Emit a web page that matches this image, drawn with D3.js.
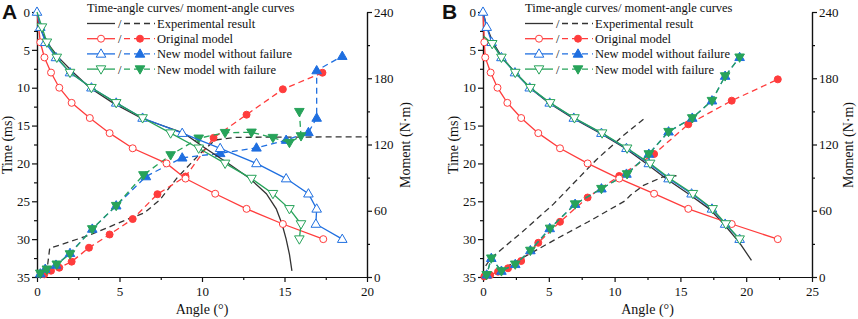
<!DOCTYPE html>
<html>
<head>
<meta charset="utf-8">
<script src="https://cdn.jsdelivr.net/npm/d3@7"></script>
<style>
body { margin: 0; background: #fff; }
text { font-family: "Liberation Serif", "Times New Roman", serif; fill: #111; }
</style>
</head>
<body>
<div id="chart"></div>
<script>
// ---- tick labels ----
const timeTicks = [0, 5, 10, 15, 20, 25, 30, 35];
const timeMinor = [2.5, 7.5, 12.5, 17.5, 22.5, 27.5, 32.5];
const momentTicks = [0, 60, 120, 180, 240];
const momentMinor = [30, 90, 150, 210];
const angleTicksA = [0, 5, 10, 15, 20];
const angleMinorA = [2.5, 7.5, 12.5, 17.5];
const angleTicksB = [0, 5, 10, 15, 20, 25];
const angleMinorB = [2.5, 7.5, 12.5, 17.5, 22.5];

const legendNames = ["Experimental result", "Original model", "New model without failure", "New model with failure"];

// ---- panel A : time-angle  [angle (deg), time (ms)] ----
const expTimeA = [[0,0],[0.15,2],[0.6,4],[1.3,6],[2.2,8],[3.2,10],[4.6,12],[6.3,14],[8.9,16],[10.2,18],[11.6,20],[12.9,22],[13.9,24],[14.5,26],[14.85,28],[15.1,30],[15.3,32],[15.45,34.2]];
const origTimeA = [[0,0],[0.1,2],[0.2,4],[0.45,6],[0.85,8],[1.35,10],[2.1,12],[3.2,14],[4.4,16],[5.8,18],[7.85,20],[9.0,22],[10.8,24],[12.7,26],[14.9,28],[17.35,30]];
const noFailTimeA = [[0,0],[0.2,2],[0.5,4],[1.15,6],[2.0,8],[3.3,10],[4.8,12],[6.4,14],[8.8,16],[11.1,18],[13.3,20],[15.1,22],[16.45,24],[16.95,26],[16.9,28],[18.5,30]];
const failTimeA = [[0,0],[0.3,2],[0.6,4],[1.2,6],[2.0,8],[3.3,10],[4.8,12],[6.4,14],[8.1,16],[9.8,18],[11.4,20],[13.0,22],[14.3,24],[15.3,26],[16.0,28],[15.9,30]];

// ---- panel A : moment-angle  [angle (deg), moment (N·m)] ----
const expMomA = [[0,0],[0.57,2],[0.77,26],[3.2,38],[5.6,53],[6.5,58],[7.45,70],[8.5,90],[9.9,112],[10.8,124],[12,126.5],[20,127]];
const origMomA = [[0,0],[0.44,2.4],[0.85,5.7],[1.35,8.4],[2.1,13.9],[3.15,26.5],[4.4,38.5],[5.8,52.5],[7.3,75],[9.0,91],[10.7,126],[12.7,147],[14.9,170],[17.3,185]];
const noFailMomA = [[0,0],[0.2,3],[0.5,7.2],[1.15,10.9],[2.0,21.5],[3.35,43.5],[4.8,64.6],[6.6,91],[8.8,108],[11.1,112],[13.3,117],[15.1,124],[16.45,131],[16.95,144],[16.95,187],[18.5,200]];
const failMomA = [[0,0],[0.2,3.3],[0.6,7],[1.2,11.5],[2.0,20.8],[3.35,43.5],[4.8,64.6],[6.45,92.4],[8.1,110.5],[9.8,125.6],[11.4,130.7],[13.0,131],[14.3,126.2],[15.3,121.7],[16.0,127.7],[15.9,149.7]];

// ---- panel B : time-angle ----
const expTimeB = [[0,0],[0.3,2],[0.75,4],[1.45,6],[2.45,8],[3.55,10],[5.0,12],[6.8,14],[8.9,16],[10.8,18],[12.4,20],[13.9,22],[15.6,24],[17.2,26],[18.3,28],[19.5,30.5],[20.4,32.8]];
const origTimeB = [[0,0],[0.05,2],[0.1,4],[0.17,6],[0.58,8],[1.1,10],[1.85,12],[2.9,14],[4.2,16],[5.85,18],[7.95,20],[10.35,22],[13.0,24],[15.6,26],[18.9,28],[22.4,30]];
const noFailTimeB = [[0,0],[0.28,2],[0.66,4],[1.4,6],[2.43,8],[3.55,10],[5.07,12],[6.9,14],[9.0,16],[10.9,18],[12.6,20],[14.1,22],[15.85,24],[17.4,26],[18.4,28],[19.5,30]];
const failTimeB = [[0.05,3.2],[0.7,4.2],[1.4,6],[2.45,8],[3.6,10],[5.1,12],[6.95,14],[9.05,16],[10.95,18],[12.7,20],[14.2,22],[15.95,24],[17.45,26],[18.45,28],[19.5,30]];

// ---- panel B : moment-angle ----
const expMomB = [[0.4,0],[1.6,8],[3.4,20],[5.5,34],[8,50],[10.8,69],[11.2,74],[12.2,83],[13.7,90.8],[14.7,91.7]];
const expMomB2 = [[0.2,10],[0.6,17],[3,41],[5.35,66],[8.6,106],[10.65,128],[12.3,144]];
const origMomB = [[0,0],[0.1,0.5],[0.55,1.8],[1.14,4.8],[1.9,7.9],[2.9,14.5],[4.2,31],[5.85,50],[7.95,72],[10.35,91.5],[13.0,111.4],[15.6,138.3],[18.9,159.7],[22.4,179]];
const noFailMomB = [[0,0],[0.28,2],[0.63,17],[1.4,5.4],[2.45,11.5],[3.6,24],[5.07,44],[7.0,66],[9.0,80],[10.9,93.3],[12.6,111.4],[14.1,131.6],[15.9,144],[17.4,159.7],[18.4,182],[19.5,199]];
const failMomB = [[0,0],[0.28,2],[0.63,17],[1.4,5.4],[2.45,11.5],[3.6,24],[5.1,44],[7.0,66],[9.0,80],[10.95,93.3],[12.6,111.4],[14.1,131.6],[15.9,144],[17.4,159.7],[18.4,182],[19.5,199]];

const width = 858, height = 319;
const red = "#ff3c3c", blue = "#1f6fe0", green = "#27a35a", black = "#333";

const svg = d3.select("#chart")
    .append("svg")
    .attr("width", width)
    .attr("height", height);

const yT = d3.scaleLinear().domain([0, 35]).range([12, 277]);
const yM = d3.scaleLinear().domain([0, 240]).range([277, 12]);

function marker(g, kind, color, px, py) {
    if (kind == "circle" || kind == "dot") {
        g.append("circle").attr("cx", px).attr("cy", py).attr("r", 3.5)
            .attr("fill", kind == "dot" ? color : "#fff")
            .attr("stroke", color).attr("stroke-width", 1);
    } else {
        const filled = kind == "triUpF" || kind == "triDnF";
        const down = kind == "triDn" || kind == "triDnF";
        g.append("path")
            .attr("d", d3.symbol(d3.symbolTriangle, 40)())
            .attr("transform", `translate(${px},${py + (down ? -0.5 : 0.5)}) rotate(${down ? 180 : 0})`)
            .attr("fill", filled ? color : "#fff")
            .attr("stroke", color).attr("stroke-width", 1);
    }
}

function series(g, data, x, y, color, dashed, kind, skip) {
    const line = d3.line().x(d => x(d[0])).y(d => y(d[1]));
    g.append("path")
        .datum(data)
        .attr("d", line)
        .attr("fill", "none")
        .attr("stroke", color)
        .attr("stroke-width", 1.3)
        .attr("stroke-dasharray", dashed ? "6,4" : null);
    if (kind) {
        data.forEach((d, i) => {
            if (i >= skip) marker(g, kind, color, x(d[0]), y(d[1]));
        });
    }
}

function panel(p) {
    const x = d3.scaleLinear().domain([0, p.xMax]).range([p.left, p.right]);
    const g = svg.append("g");

    // axes
    g.append("g").attr("transform", `translate(0,277)`)
        .call(d3.axisBottom(x).tickValues(p.minor).tickSize(3).tickFormat("").tickSizeOuter(0));
    g.append("g").attr("transform", `translate(0,277)`)
        .call(d3.axisBottom(x).tickValues(p.ticks).tickSize(5).tickPadding(5).tickSizeOuter(0));
    g.append("g").attr("transform", `translate(${p.left},0)`)
        .call(d3.axisLeft(yT).tickValues(timeMinor).tickSize(3).tickFormat("").tickSizeOuter(0));
    g.append("g").attr("transform", `translate(${p.left},0)`)
        .call(d3.axisLeft(yT).tickValues(timeTicks).tickSize(5).tickPadding(2).tickSizeOuter(0));
    g.append("g").attr("transform", `translate(${p.right},0)`)
        .call(d3.axisRight(yM).tickValues(momentMinor).tickSize(3).tickFormat("").tickSizeOuter(0));
    g.append("g").attr("transform", `translate(${p.right},0)`)
        .call(d3.axisRight(yM).tickValues(momentTicks).tickSize(5).tickPadding(2).tickSizeOuter(0));
    g.selectAll(".domain, .tick line").attr("stroke", "#111").attr("stroke-width", 1.2);
    g.selectAll(".tick text").style("font-size", "13px").style("font-family", "Liberation Serif");

    // titles
    g.append("text").attr("transform", `translate(${p.timeX},145) rotate(-90)`)
        .attr("text-anchor", "middle").style("font-size", "14px").text("Time (ms)");
    g.append("text").attr("transform", `translate(${p.momX},145) rotate(-90)`)
        .attr("text-anchor", "middle").style("font-size", "14px").text("Moment (N·m)");
    g.append("text").attr("x", (p.left + p.right) / 2).attr("y", 314)
        .attr("text-anchor", "middle").style("font-size", "14px").text("Angle (°)");
    g.append("text").attr("x", p.labelX).attr("y", 19)
        .style("font-family", "Liberation Sans, Arial, sans-serif")
        .style("font-weight", "bold").style("font-size", "21px").text(p.label);

    // moment-angle curves (dashed)
    p.expMom.forEach(d => series(g, d, x, yM, black, true, null, 0));
    series(g, p.origMom, x, yM, red, true, "dot", 1);
    series(g, p.noFailMom, x, yM, blue, true, "triUpF", 1);
    series(g, p.failMom, x, yM, green, true, "triDnF", 1);

    // time-angle curves (solid)
    series(g, p.expTime, x, yT, black, false, null, 0);
    series(g, p.origTime, x, yT, red, false, "circle", 2);
    series(g, p.noFailTime, x, yT, blue, false, "triUp", 0);
    series(g, p.failTime, x, yT, green, false, "triDn", 1);

    // legend
    const lx = p.legendX;
    g.append("text").attr("x", lx).attr("y", 12).style("font-size", "12.5px")
        .text("Time-angle curves/ moment-angle curves");
    const kinds = [[null, null], ["circle", "dot"], ["triUp", "triUpF"], ["triDn", "triDnF"]];
    const cols = [black, red, blue, green];
    legendNames.forEach((name, i) => {
        const yy = 23.5 + i * 15.2;
        g.append("line").attr("x1", lx).attr("x2", lx + 28).attr("y1", yy).attr("y2", yy)
            .attr("stroke", cols[i]).attr("stroke-width", 1.3);
        g.append("text").attr("x", lx + 31).attr("y", yy + 4.5).style("font-size", "12.5px").text("/");
        g.append("line").attr("x1", lx + 37).attr("x2", lx + 68).attr("y1", yy).attr("y2", yy)
            .attr("stroke", cols[i]).attr("stroke-width", 1.3).attr("stroke-dasharray", "6,4");
        if (kinds[i][0]) {
            marker(g, kinds[i][0], cols[i], lx + 14, yy);
            marker(g, kinds[i][1], cols[i], lx + 53, yy);
        }
        g.append("text").attr("x", lx + 70).attr("y", yy + 4.5).style("font-size", "12.5px").text(name);
    });
}

panel({
    label: "A", labelX: 2, left: 37, right: 367, xMax: 20,
    ticks: angleTicksA, minor: angleMinorA, timeX: 12, momX: 410, legendX: 87,
    expTime: expTimeA, origTime: origTimeA, noFailTime: noFailTimeA, failTime: failTimeA,
    expMom: [expMomA], origMom: origMomA, noFailMom: noFailMomA, failMom: failMomA
});

panel({
    label: "B", labelX: 442, left: 483, right: 812, xMax: 25,
    ticks: angleTicksB, minor: angleMinorB, timeX: 458, momX: 853, legendX: 525,
    expTime: expTimeB, origTime: origTimeB, noFailTime: noFailTimeB, failTime: failTimeB,
    expMom: [expMomB, expMomB2], origMom: origMomB, noFailMom: noFailMomB, failMom: failMomB
});
</script>
</body>
</html>
